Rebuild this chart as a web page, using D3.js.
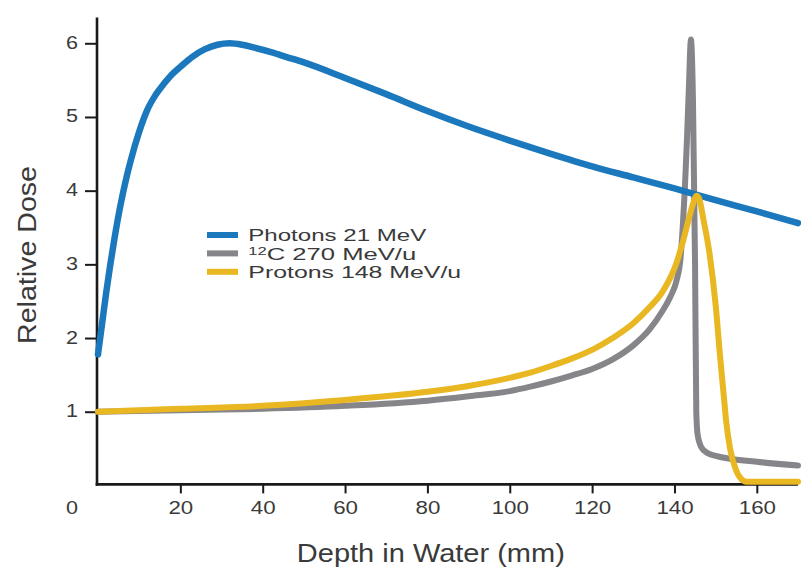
<!DOCTYPE html>
<html>
<head>
<meta charset="utf-8">
<script src="https://cdn.jsdelivr.net/npm/d3@7"></script>
<style>
  html, body { margin: 0; padding: 0; background: #fff; }
  svg { display: block; }
  text { font-family: "Liberation Sans", Arial, sans-serif; fill: #3a3a3a; }
</style>
</head>
<body>
<svg id="chart" width="801" height="571"></svg>
<script>
// ---- data ----
const photonDepth = [0,1,2,3,4,5,6,7,8,10,12,14,16,18,20,23,26,29,32,35,38,42,46,50,60,70,80,90,100,110,120,130,140,150,160,170];
const photonDose  = [1.78,2.2,2.62,3.0,3.35,3.67,3.95,4.2,4.42,4.8,5.1,5.3,5.45,5.58,5.68,5.82,5.92,5.98,6.0,5.98,5.94,5.88,5.81,5.74,5.53,5.31,5.08,4.87,4.68,4.5,4.33,4.18,4.03,3.87,3.72,3.56];

const carbonDepth = [0,20,40,60,80,90,100,105,110,115,120,125,130,134,137,139,140.5,141.5,142,142.5,143,143.5,144,144.5,145,145.3,145.6,146.5,148,150,160,170];
const carbonDose  = [1.0,1.02,1.04,1.08,1.15,1.21,1.28,1.34,1.41,1.49,1.58,1.71,1.9,2.12,2.36,2.56,2.78,3.1,3.5,4.0,4.65,5.4,6.05,5.2,3.0,1.0,0.7,0.52,0.44,0.4,0.32,0.27];

const protonDepth = [0,20,40,60,80,90,100,105,110,115,120,125,130,134,137,139,140.5,142,143.5,144.5,145.4,146,147,148.5,150,151,152,152.5,153.5,155,156,157.5,160,170];
const protonDose  = [1.0,1.04,1.08,1.16,1.27,1.35,1.46,1.53,1.62,1.72,1.84,2.0,2.2,2.42,2.62,2.82,3.02,3.3,3.62,3.82,3.93,3.89,3.62,3.15,2.45,1.8,1.2,0.9,0.5,0.2,0.1,0.05,0.05,0.05];

const xTicks = [20,40,60,80,100,120,140,160];
const yTicks = [1,2,3,4,5,6];
const legendLabels = ["Photons 21 MeV", "C 270 MeV/u", "Protons 148 MeV/u"];
const legendSup = ["", "12", ""];
const seriesColors = ["#1b78bd", "#85858a", "#e8b722"];
const xTitle = "Depth in Water (mm)";
const yTitle = "Relative Dose";

// ---- layout ----
const svg = d3.select("#chart");
const x = d3.scaleLinear().domain([0, 170]).range([98, 798]);
const y = d3.scaleLinear().domain([0, 6.35]).range([485.4, 17.5]);

const axisColor = "#1a1a1a";

// X axis
const gx = svg.append("g").attr("transform", `translate(0,${y(0) - 1})`);
gx.call(d3.axisBottom(x).tickValues(xTicks).tickSize(9).tickSizeOuter(0).tickPadding(8).tickFormat(d3.format("d")));
gx.select(".domain").attr("stroke", axisColor).attr("stroke-width", 2.6).attr("d", `M${x(0) - 2.3},0H${x(170)}`);
gx.selectAll(".tick line").attr("stroke", axisColor).attr("stroke-width", 2);
gx.selectAll(".tick text")
  .attr("font-size", 19).attr("fill", "#3a3a3a")
  .attr("font-family", '"Liberation Sans", Arial, sans-serif')
  .attr("y", 25).attr("dy", "0")
  .attr("dominant-baseline", "middle")
  .attr("textLength", d => String(d).length * 12.4)
  .attr("lengthAdjust", "spacingAndGlyphs");

// Y axis
const gy = svg.append("g").attr("transform", `translate(${x(0) - 1},0)`);
gy.call(d3.axisLeft(y).tickValues(yTicks).tickSize(12).tickSizeOuter(0).tickPadding(7).tickFormat(d3.format("d")));
gy.select(".domain").attr("stroke", axisColor).attr("stroke-width", 2.6).attr("d", `M0,${y(0) + 0.3}V${y(6.35)}`);
gy.selectAll(".tick line").attr("stroke", axisColor).attr("stroke-width", 2);
gy.selectAll(".tick text")
  .attr("font-size", 19).attr("fill", "#3a3a3a")
  .attr("font-family", '"Liberation Sans", Arial, sans-serif')
  .attr("dy", "0").attr("dominant-baseline", "middle")
  .attr("textLength", d => String(d).length * 12.0)
  .attr("lengthAdjust", "spacingAndGlyphs");

// the lone "0" label at the corner
svg.append("text")
  .attr("x", x(0) - 1 - 12 - 7).attr("y", y(0) - 1 + 25)
  .attr("text-anchor", "end").attr("dominant-baseline", "middle")
  .attr("font-size", 19)
  .attr("textLength", 12.0).attr("lengthAdjust", "spacingAndGlyphs")
  .text("0");

// Axis titles
svg.append("text")
  .attr("x", (296.7 + 565) / 2).attr("y", 562)
  .attr("text-anchor", "middle").attr("font-size", 25)
  .attr("textLength", 268).attr("lengthAdjust", "spacingAndGlyphs")
  .attr("fill", "#333")
  .text(xTitle);

svg.append("text")
  .attr("transform", `translate(36,${(165 + 345) / 2}) rotate(-90)`)
  .attr("text-anchor", "middle").attr("font-size", 26)
  .attr("textLength", 178).attr("lengthAdjust", "spacingAndGlyphs")
  .attr("fill", "#333")
  .text(yTitle);

// ---- curves ----
const line = d3.line().x(d => x(d[0])).y(d => y(d[1])).curve(d3.curveMonotoneX);
const series = [
  { depth: carbonDepth, dose: carbonDose, color: seriesColors[1], w: 6 },
  { depth: photonDepth, dose: photonDose, color: seriesColors[0], w: 6.5 },
  { depth: protonDepth, dose: protonDose, color: seriesColors[2], w: 6 }
];
series.forEach(s => {
  svg.append("path")
    .datum(d3.zip(s.depth, s.dose))
    .attr("d", line)
    .attr("fill", "none")
    .attr("stroke", s.color)
    .attr("stroke-width", s.w)
    .attr("stroke-linejoin", "round")
    .attr("stroke-linecap", "round");
});

// ---- legend ----
const legendTargets = [178, 168, 213];
const lg = svg.append("g");
legendLabels.forEach((lab, i) => {
  const cy = 235 + i * 18.4;
  lg.append("rect")
    .attr("x", 207).attr("y", cy - 3).attr("width", 31).attr("height", 6)
    .attr("fill", seriesColors[i]);
  const t = lg.append("text")
    .attr("font-size", 17).attr("fill", "#3a3a3a");
  if (legendSup[i]) {
    t.append("tspan").attr("font-size", 11).attr("dy", -5).text(legendSup[i]);
    t.append("tspan").attr("dy", 5).text(lab);
  } else {
    t.text(lab);
  }
  const w = t.node().getComputedTextLength();
  const sx = legendTargets[i] / w;
  t.attr("transform", `translate(248.3,${cy + 6.3}) scale(${sx},1)`);
});
</script>
</body>
</html>
